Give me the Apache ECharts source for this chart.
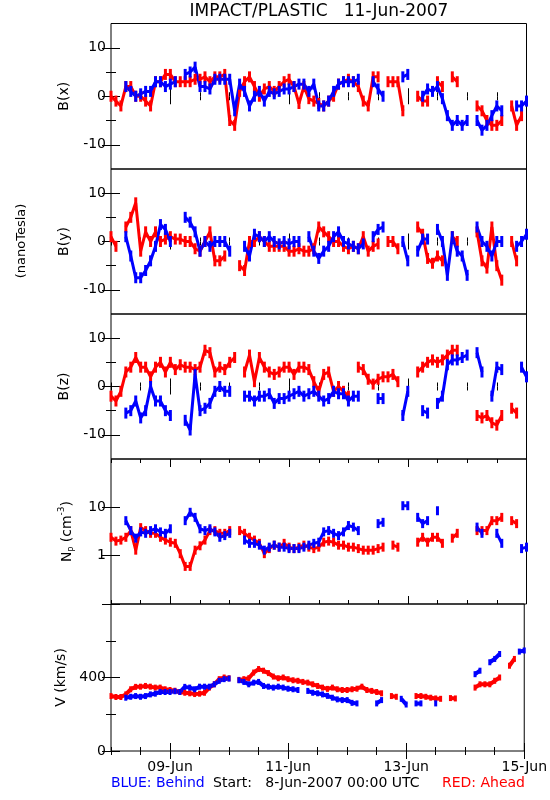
<!DOCTYPE html>
<html><head><meta charset="utf-8">
<script src="https://cdn.jsdelivr.net/npm/echarts@6/dist/echarts.min.js"></script>
<style>html,body{margin:0;padding:0;background:#fff}#c{width:550px;height:800px}</style>
</head><body><div id="c"></div>
<script>
// time in hours since 8-Jun-2007 00:00 UTC
const hours = [0,2,4,6,8,10,12,14,16,18,20,22,24,26,28,30,32,34,36,38,40,42,44,46,48,50,52,54,56,58,60,62,64,66,68,70,72,74,76,78,80,82,84,86,88,90,92,94,96,98,100,102,104,106,108,110,112,114,116,118,120,122,124,126,128,130,132,134,136,138,140,142,144,146,148,150,152,154,156,158,160,162,164,166,168];
const xTickLabels = ['09-Jun','11-Jun','13-Jun','15-Jun'];
const xTickHours = [24,72,120,168];

const bxBlue = [null,null,null,2,1,0,0.5,1,1,3, 3,2,2.5,3,null,4.5,5,6,2,2, 1.5,3.5,3.5,3.5,3.5,-3,2.5,1,-2,0, 1,-1,1,0.5,1,1.5,1.5,2,2.5,2.5, 1,2.5,-2,-2,-1,1,2.5,3,3,3, 3.5,null,null,3,1.5,0,null,null,null,4, 4.5,null,null,0,1.5,1,2,-0.5,-4,-6, -5,-6,-5,null,-5,-7,-6,-4,-2,-3, null,null,-2,-2,-1];
const bxRed = [0,-1,-2,2,2,0,0,-1,-2,3, 3,4.5,4.5,3,3,3,3,3.5,3.5,4, 3,4,4,4.5,-5,-6,1,3,4,2, 0,1.5,2,1,2,3,3.5,2,-1.5,2, -0.5,-1,-1.5,-2,-1,0,2.5,3,3.5,3, 2,-1,-2,4,4,null,3,3,3,-3, null,null,0,-1,-1,null,3,2,null,4, 3,null,null,null,-2,-3,-5,-6,-6,-5, null,-2,-6,-4,null];

const byBlue = [null,null,null,1,-3,-7.5,-7.5,-6,-4,-1, 3.5,2.5,0,null,null,5,4,2,-2,0, -1,0,0,0,-2,null,null,-1,-3,1.5, 1,0,1,0,-0.5,0,-0.5,0,0,null, 1,-2,-3.5,-2,-1,1,2,0,-0.5,-1, -1.5,-0.5,null,1,2.5,3,null,null,null,0, -4,null,-2,0.5,0.5,null,2.5,0,-7,1, -2,-3,-7,null,3,0,-1,-3,0,0, null,null,-1,0,1.5];
const byRed = [1,-1,null,3,5,8,-2,2,0,2, 0,0.5,1,0.5,0.5,0,0,-1.5,-2,0, 2,-4,-4,-3,null,null,-5,-6,0,0, 1,0,-1,-1,-1,-1,-2,-2,-1.5,-2, -2,-1.5,3,2,1,0,0,-1,-1.5,-1, -1.5,1,-2,-1,-0.5,null,0,0,-1.5,null, null,null,3,1.5,-3.5,-4.5,-3,-4,null,1, 0,null,null,null,2,-4,-5.5,3,-5,-8, null,0,-4,null,null];

const bzBlue = [null,null,null,-5.5,-5,-3,-6.5,-5,0,-3, -3,-5,-6,null,null,-7,-9,2.5,-5,-4.5, -3.5,-1,0,-1,-1,null,null,-2,-2,-3, -2,-2,-1.5,-3.5,-2.5,-2.5,-2,-1.5,-1,-2, -1.5,-1,-2,-3,-2.5,-1,-1.5,-1.5,-3,-2, -2,null,null,null,-2.5,-2.5,null,null,null,-6, -1,null,null,-5,-5.5,null,-3.5,-2,4.5,5.5, 5.5,6,6.5,null,7,3,null,-2,4,3.5, null,null,null,4,2];
const bzRed = [-2,-3,-1,3,4,6,4,4,2,4, 5,3,5,3.5,4.5,4,4,3.5,4,7.5, 7,3,4,3.5,5,6,null,3,6.5,1, 6,4,3,2.5,3,4,4,2.5,4,4, 3.5,1,-1,2.5,3,-1,0,-1,-2,null, 4,3.5,1.5,0.5,1.5,2,2,2.5,1,null, null,null,3,4,5,5.5,5,5.5,6.5,7.5, 7.5,null,null,null,-6,-6.5,-6,-7.5,-8,-6, null,-4.5,-5.5,null,null];

const npBlue = [null,null,null,5.3,3.3,2.3,3.1,2.9,3.3,3.6, 3.1,2.9,3.6,null,null,5.3,7.9,6.2,3.6,3.3, 3.6,3.1,2.4,2.6,2.9,null,null,2.1,1.8,1.8, 1.65,1.3,1.5,1.65,1.5,1.5,1.4,1.4,1.4,1.5, 1.65,1.8,1.9,3.1,3.3,2.9,2.6,3.1,4.2,3.9, 3.3,null,null,null,4.6,4.9,null,null,null,10.8, 10.8,null,6.2,4.6,5.3,null,8.5,null,null,null, null,null,null,null,3.9,2.9,null,null,2.9,1.8, null,null,null,1.4,1.5];
const npRed = [2.4,2.0,2.1,2.4,3.3,1.3,3.8,3.3,2.9,2.9, 2.4,2.1,1.9,1.8,1.1,0.6,0.6,1.3,1.6,2.1, 3.3,3.3,2.9,2.9,3.3,null,3.3,2.9,2.4,2.1, 1.8,1.1,1.4,1.65,1.5,1.8,1.5,1.4,1.5,1.65, 1.5,1.4,1.5,1.9,2.0,1.9,1.65,1.65,1.5,1.5, 1.4,1.3,1.3,1.3,1.4,1.5,null,1.65,1.5,null, null,null,1.9,2.4,1.9,2.4,2.4,1.8,null,2.3, 2.9,null,null,null,3.3,3.3,3.3,5.3,5.3,6.2, null,5.3,4.6,null,null];

const vBlue = [null,null,null,290,295,299,295,299,308,312, 321,321,321,325,321,349,345,336,350,350, 350,363,382,391,394,null,385,376,363,372, 376,354,350,345,350,345,339,336,332,null, 327,317,314,308,300,290,281,277,277,262, 259,null,null,null,259,277,null,null,null,284, 253,null,259,259,null,null,259,null,null,null, null,null,null,null,418,437,null,483,501,528, null,null,null,541,547];
const vRed = [299,294,294,308,336,349,350,354,350,345, 345,336,332,328,321,317,314,310,312,317, 345,363,391,400,396,null,387,391,396,427, 446,437,424,405,396,400,391,385,382,376, 372,363,354,345,338,345,336,332,332,336, 339,350,332,327,321,314,null,299,295,null, null,null,299,299,295,290,286,284,null,288, 286,null,null,null,345,363,363,363,382,400, null,464,501,null,null];

const FONT = 'DejaVu Sans';
const BLUE = '#0000ff', RED = '#ff0000';
const chart = echarts.init(document.getElementById('c'), null, {renderer: 'canvas'});

const panels = [
  {name: 'B(x)', type: 'value', min: -15, max: 15, major: [-10,0,10], minor: [-5,5], labels: [-10,0,10], red: bxRed, blue: bxBlue, gap: 40, sym: [3, 11], lw: 3},
  {name: 'B(y)', type: 'value', min: -15, max: 15, major: [-10,0,10], minor: [-5,5], labels: [-10,0,10], red: byRed, blue: byBlue, gap: 40, sym: [3, 11], lw: 3},
  {name: 'B(z)', type: 'value', min: -15, max: 15, major: [-10,0,10], minor: [-5,5], labels: [-10,0,10], red: bzRed, blue: bzBlue, gap: 40, sym: [3, 11], lw: 3},
  {name: '{n|N}{s|P}{n| (cm}{u|-3}{n|)}', type: 'log', min: 0.1, max: 100, major: [1,10], minor: [], labels: [1,10], red: npRed, blue: npBlue, gap: 29, sym: [3, 9], lw: 3},
  {name: 'V (km/s)', type: 'value', min: 0, max: 800, major: [0,400,800], minor: [200,600], labels: [0,400], red: vRed, blue: vBlue, gap: 38, sym: [3, 6], lw: 4}
];
const tops = [23.5, 169, 314, 459, 604];
const heights = [145.5, 145, 145, 145, 147];

const grids = [], xAxes = [], yAxes = [], series = [];
const noLine = {show: false};
panels.forEach((p, i) => {
  grids.push({left: 111, width: 415.5, top: tops[i], height: heights[i], containLabel: false,
              show: true, borderColor: '#000', borderWidth: 1, backgroundColor: 'transparent'});
  const last = i === panels.length - 1;
  const xBase = {gridIndex: i, type: 'value', min: 0, max: 168, splitLine: {show: false}, axisLine: noLine};
  xAxes.push(Object.assign({}, xBase, {
    position: 'bottom', interval: 12,
    axisTick: {show: true, inside: true, length: 4, lineStyle: {color: '#000'}},
    axisLabel: last ? {show: true, customValues: xTickHours, formatter: v => xTickLabels[xTickHours.indexOf(v)] || '', fontFamily: FONT, fontSize: 14, color: '#000', margin: 9} : {show: false}
  }));
  xAxes.push(Object.assign({}, xBase, {
    position: 'bottom',
    axisTick: {show: true, inside: true, length: 8, customValues: xTickHours, lineStyle: {color: '#000'}},
    axisLabel: {show: false}
  }));
  xAxes.push(Object.assign({}, xBase, {
    position: 'top', interval: 12,
    axisTick: {show: true, inside: true, length: 4, lineStyle: {color: '#000'}},
    axisLabel: {show: false}
  }));
  xAxes.push(Object.assign({}, xBase, {
    position: 'top',
    axisTick: {show: true, inside: true, length: 8, customValues: xTickHours, lineStyle: {color: '#000'}},
    axisLabel: {show: false}
  }));
  const yBase = {gridIndex: i, type: p.type, min: p.min, max: p.max, splitLine: {show: false}, axisLine: noLine};
  if (p.type === 'log') yBase.logBase = 10;
  yAxes.push(Object.assign({}, yBase, {
    position: 'left',
    name: p.name, nameLocation: 'middle', nameRotate: 90, nameGap: p.gap,
    nameTextStyle: {fontFamily: FONT, fontSize: 14, color: '#000',
      rich: {n: {fontFamily: FONT, fontSize: 14, color: '#000', lineHeight: 20},
             s: {fontFamily: FONT, fontSize: 8, color: '#000', lineHeight: 9, verticalAlign: 'bottom'},
             u: {fontFamily: FONT, fontSize: 9, color: '#000', lineHeight: 9, verticalAlign: 'top'}}},
    axisTick: p.minor.length ? {show: true, inside: true, length: 5, customValues: p.minor, lineStyle: {color: '#000'}} : {show: false},
    axisLabel: {show: true, customValues: p.labels, formatter: v => String(v), fontFamily: FONT, fontSize: 14, color: '#000', margin: 5}
  }));
  yAxes.push(Object.assign({}, yBase, {
    position: 'left',
    axisTick: {show: true, inside: true, length: 9, customValues: p.major, lineStyle: {color: '#000'}},
    axisLabel: {show: false}
  }));
  yAxes.push(Object.assign({}, yBase, {
    position: 'right',
    axisTick: p.minor.length ? {show: true, inside: true, length: 5, customValues: p.minor, lineStyle: {color: '#000'}} : {show: false},
    axisLabel: {show: false}
  }));
  yAxes.push(Object.assign({}, yBase, {
    position: 'right',
    axisTick: {show: true, inside: true, length: 9, customValues: p.major, lineStyle: {color: '#000'}},
    axisLabel: {show: false}
  }));
  [[p.red, RED], [p.blue, BLUE]].forEach(([arr, col]) => {
    series.push({
      type: 'line', xAxisIndex: 4 * i, yAxisIndex: 4 * i,
      data: hours.map((h, k) => [h, arr[k]]),
      showSymbol: true, showAllSymbol: true, symbol: 'rect', symbolSize: p.sym,
      itemStyle: {color: col}, lineStyle: {color: col, width: p.lw},
      connectNulls: false, silent: true, animation: false, clip: true
    });
  });
});

chart.setOption({
  animation: false,
  backgroundColor: '#fff',
  grid: grids, xAxis: xAxes, yAxis: yAxes, series: series,
  graphic: [
    {type: 'text', x: 319, y: 12, style: {text: 'IMPACT/PLASTIC   11-Jun-2007', font: '17px "DejaVu Sans"', fill: '#000', align: 'center', verticalAlign: 'middle'}},
    {type: 'text', x: 22, y: 241, rotation: Math.PI / 2, style: {text: '(nanoTesla)', font: '13px "DejaVu Sans"', fill: '#000', align: 'center', verticalAlign: 'middle'}},
    {type: 'text', x: 111, y: 783, style: {text: 'BLUE: Behind', font: '14px "DejaVu Sans"', fill: BLUE, verticalAlign: 'middle'}},
    {type: 'text', x: 213, y: 783, style: {text: 'Start:   8-Jun-2007 00:00 UTC', font: '14px "DejaVu Sans"', fill: '#000', verticalAlign: 'middle'}},
    {type: 'text', x: 525, y: 783, style: {text: 'RED: Ahead', font: '14px "DejaVu Sans"', fill: RED, align: 'right', verticalAlign: 'middle'}}
  ]
});
</script></body></html>
